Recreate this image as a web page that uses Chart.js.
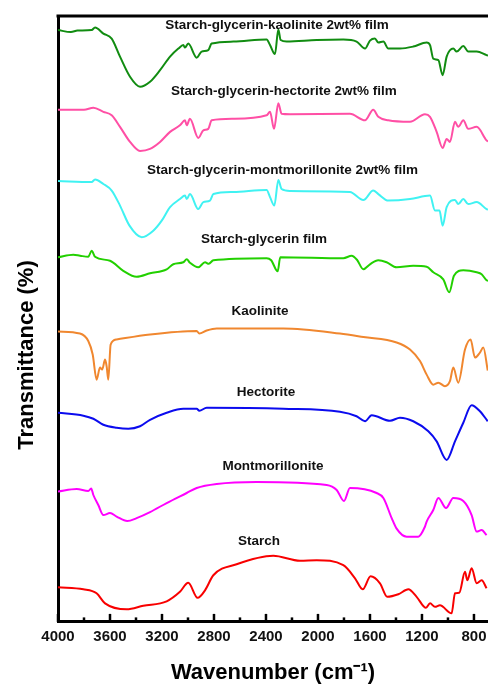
<!DOCTYPE html>
<html>
<head>
<meta charset="utf-8">
<script src="https://cdn.jsdelivr.net/npm/chart.js@4.4.1/dist/chart.umd.min.js"></script>
<style>
  html, body { margin: 0; padding: 0; background: #fff; overflow: hidden; }
  canvas { display: block; }
</style>
</head>
<body>
<canvas id="c" width="488" height="684"></canvas>
<script>
// ---- data (wavenumber, cm-1 ; transmittance, offset a.u.) ----
const xTicks = [4000, 3600, 3200, 2800, 2400, 2000, 1600, 1200, 800];

const sgKaolWn = [4000,3900,3850,3741,3715,3651,3587,3523,3446,3369,3292,3215,3138,3074,3036,3023,2998,2933,2895,2844,2818,2651,2395,2369,2331,2305,2287,2241,2010,1805,1703,1638,1600,1562,1536,1497,1459,1369,1267,1164,1138,1113,1074,1041,1010,959,933,882,844,779,703,692];
const sgKaolT  = [118,117.6,117.9,118,118.5,117.3,116.3,112.7,108.7,106.7,107.7,110,112.7,114.3,115,114.5,115.3,112.5,113.7,114,115.3,115.7,116.1,115,113.2,118.1,116,115.7,116,116.1,115.7,114.3,115.9,116.3,115.5,115.7,114.3,114.3,114.7,115.5,115,112.3,112,109,112.7,114.3,113.7,114.8,113.7,113.7,113,112.9];

const sgHectWn = [4000,3800,3728,3651,3587,3523,3446,3369,3292,3215,3138,3062,3023,3010,2985,2921,2882,2844,2818,2651,2395,2369,2338,2305,2280,2215,1754,1638,1575,1536,1459,1292,1177,1138,1087,1041,1010,985,946,921,882,844,779,703,692];
const sgHectT  = [102.1,102.1,102.5,101.7,101,98.7,95.7,93.9,94.3,95.7,97.7,99,100,99,100.3,96.5,98,98.3,100,100.3,101,101.7,98.3,103.4,101.3,101.2,101.3,100,102.1,100.7,100,99.7,101.2,100.7,97.7,94.5,96.3,95.7,99.7,98.7,100,98.3,98.7,96,95.8];

const sgMontWn = [4000,3741,3715,3651,3587,3523,3450,3356,3267,3202,3138,3062,3023,3010,2985,2921,2882,2831,2805,2651,2395,2369,2336,2305,2280,2215,1754,1651,1575,1536,1459,1292,1138,1100,1065,1041,1010,946,921,882,844,779,703,692];
const sgMontT  = [87.9,87.7,88.2,87.3,86,83,79,76.7,78,80,82.7,84.3,85,84.3,85.3,82.3,83.7,84,85.3,85.7,86.1,84.7,83,88.1,86.3,85.9,85.7,84.1,86,85.3,84,84.3,85,82,82,79,82.7,84.1,83.3,84.3,83.3,83.7,82.3,82.2];

const sgFilmWn = [4000,3882,3830,3767,3741,3715,3600,3498,3395,3292,3164,3113,3036,3010,2985,2921,2869,2840,2805,2395,2360,2310,2290,1805,1741,1700,1651,1600,1536,1472,1395,1267,1164,1113,1036,990,954,882,779,741,703,692];
const sgFilmT  = [72.7,73.2,73,72.8,74,72.8,72,70,68.8,69.5,70.3,71.3,71.7,72.3,71.6,70.7,71.7,71.4,72.1,72.5,72.1,69.9,72.7,72.5,73,72.2,70.3,71.3,72.1,71.7,70.7,71,70.8,69.7,68.3,65.7,69,70.1,69.7,69.3,68.1,68];

const kaolWn = [4000,3831,3767,3733,3703,3677,3660,3638,3625,3613,3595,3549,3292,2933,2913,2856,2779,2267,1831,1651,1395,1292,1215,1164,1113,1074,1023,985,959,921,869,826,792,754,728,694];
const kaolT  = [57.9,57.5,56,53.3,48.3,50.7,50.3,52.3,50.8,48.3,55.3,56.3,57.3,58,57.5,58.1,58.5,58.5,57.5,56.8,55.7,54.3,52,49.3,47.3,47.7,47,48,50.7,47.7,54.3,56.3,52.7,53.7,54.7,50.1];

const hectWn = [4000,3805,3728,3651,3549,3459,3369,3292,3164,3036,2933,2913,2856,2267,1831,1703,1638,1587,1446,1369,1267,1151,1087,1010,946,882,818,754,694];
const hectT  = [41.7,41.1,40.5,39.3,38.7,38.5,39,40.3,41.7,42.5,42.5,42.1,42.7,42.5,41.9,41,40,41.2,40.1,40.7,40,38,36,32.3,36,39.7,43.2,42,40];

const montWn = [4000,3856,3767,3745,3728,3690,3651,3600,3549,3467,3395,3292,3164,3010,2933,2779,2472,1933,1856,1800,1754,1549,1497,1433,1395,1318,1228,1177,1164,1113,1074,1015,959,882,818,779,741,703];
const montT  = [26,26.5,26.1,26.6,25.3,23.3,21.3,21.7,21,20.1,20.7,21.9,23.7,25.7,26.7,27.5,27.9,27.3,26.3,24.1,26.7,25.7,24.7,20.7,18.6,17,17,19,20,22.3,24.7,22.7,24.7,24.1,21.3,18,18.3,17.3];

const starchWn = [4000,3805,3703,3638,3472,3344,3164,3062,2998,2926,2869,2805,2626,2344,2138,2010,1805,1715,1656,1595,1523,1467,1382,1305,1241,1169,1138,1100,1062,972,946,913,869,851,818,779,741,703];
const starchT  = [6.9,6.5,5.7,3.7,2.5,3.2,4.1,6,7.8,4.8,6.3,9.3,11.5,13.2,12.2,12.3,11.3,8.7,6.5,9.1,7.7,5,5.5,6.5,5,2.8,3.7,3,3.3,1.7,5.7,5.8,10,8.3,10.7,7.7,8.3,6.7];

const seriesNames = ['Starch-glycerin-kaolinite 2wt% film','Starch-glycerin-hectorite 2wt% film','Starch-glycerin-montmorillonite 2wt% film','Starch-glycerin film','Kaolinite','Hectorite','Montmorillonite','Starch'];
const labelWn = [2315, 2262, 2273, 2415, 2446, 2400, 2346, 2454];
const labelT  = [119, 105.7, 90.1, 76.3, 61.9, 45.7, 31.1, 16.1];

// ---- styles ----
const colors = ['#118c11', '#ff4fa5', '#40f2f2', '#22d000', '#f0872f', '#0b0bee', '#ff00ff', '#f80000'];
const FONT = "'Liberation Sans', Arial, Helvetica, sans-serif";

const xs = [sgKaolWn, sgHectWn, sgMontWn, sgFilmWn, kaolWn, hectWn, montWn, starchWn];
const ys = [sgKaolT, sgHectT, sgMontT, sgFilmT, kaolT, hectT, montT, starchT];

const datasets = xs.map((wx, i) => ({
  label: seriesNames[i],
  data: wx.map((w, j) => ({ x: w, y: ys[i][j] })),
  borderColor: colors[i],
  backgroundColor: colors[i],
  borderWidth: 2,
  pointRadius: 0,
  cubicInterpolationMode: 'monotone',
  fill: false
}));

const framePlugin = {
  id: 'frame',
  afterDraw(chart) {
    const { ctx, chartArea: a, scales: { x, y } } = chart;
    ctx.save();
    // top border
    ctx.strokeStyle = '#000';
    ctx.lineWidth = 3;
    ctx.beginPath();
    ctx.moveTo(a.left - 1.5, a.top);
    ctx.lineTo(a.right + 2, a.top);
    ctx.stroke();
    // inward ticks (major every 400, minor every 200)
    ctx.lineWidth = 2.5;
    for (let v = 800; v <= 4000; v += 200) {
      const px = x.getPixelForValue(v);
      const len = (v % 400 === 0) ? 8 : 4.5;
      ctx.beginPath();
      ctx.moveTo(px, a.bottom);
      ctx.lineTo(px, a.bottom - len);
      ctx.stroke();
    }
    // series labels
    ctx.fillStyle = '#111';
    ctx.font = 'bold 13.5px ' + FONT;
    ctx.textAlign = 'center';
    ctx.textBaseline = 'middle';
    seriesNames.forEach((t, i) => {
      ctx.fillText(t, x.getPixelForValue(labelWn[i]), y.getPixelForValue(labelT[i]));
    });
    // y axis title
    ctx.translate(27, 355);
    ctx.rotate(-Math.PI / 2);
    ctx.font = 'bold 22px ' + FONT;
    ctx.fillStyle = '#000';
    ctx.fillText('Transmittance (%)', 0, 0);
    ctx.restore();
  }
};

new Chart(document.getElementById('c'), {
  type: 'line',
  data: { datasets },
  options: {
    responsive: false,
    animation: false,
    events: [],
    layout: { padding: { left: 58, top: 16, right: 0, bottom: 0 }, autoPadding: false },
    plugins: { legend: { display: false }, tooltip: { enabled: false } },
    scales: {
      x: {
        type: 'linear',
        reverse: true,
        min: 692,
        max: 4000,
        afterBuildTicks: (s) => { s.ticks = xTicks.map(v => ({ value: v })); },
        afterFit: (s) => { s.paddingLeft = 0; s.paddingRight = 0; },
        grid: { display: false, drawTicks: false },
        border: { display: true, color: '#000', width: 3 },
        ticks: {
          color: '#111',
          font: { family: FONT, size: 15, weight: 'bold' },
          padding: 6,
          maxRotation: 0,
          autoSkip: false,
          callback: (v) => String(v)
        },
        title: {
          display: true,
          text: 'Wavenumber (cm\u207B\u00B9)',
          color: '#000',
          font: { family: FONT, size: 22, weight: 'bold', lineHeight: 1.05 },
          padding: { top: 9, bottom: 0 }
        }
      },
      y: {
        type: 'linear',
        min: 0,
        max: 120.8,
        grid: { display: false, drawTicks: false },
        border: { display: true, color: '#000', width: 3 },
        ticks: { display: false },
        title: { display: false }
      }
    }
  },
  plugins: [framePlugin]
});
</script>
</body>
</html>
